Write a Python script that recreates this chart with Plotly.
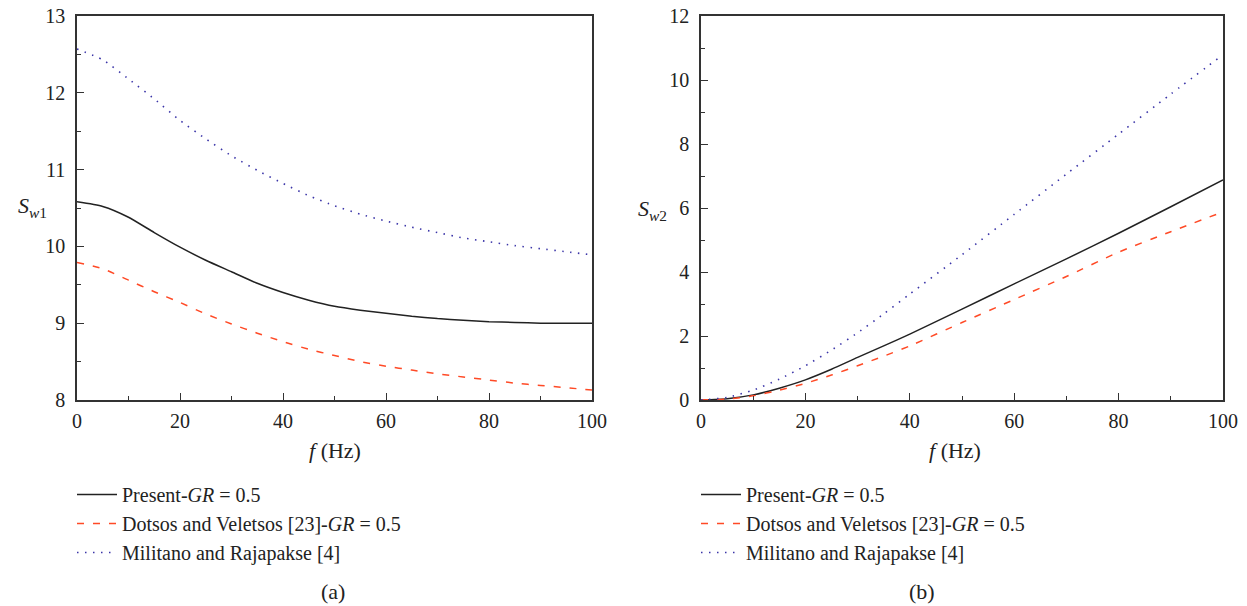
import plotly.graph_objects as go

# Frequency grids (Hz)
f_a = [0, 5, 10, 15, 20, 25, 30, 35, 40, 45, 50, 55, 60, 65, 70, 75, 80, 85, 90, 95, 100]
f_b = [0, 5, 10, 15, 20, 25, 30, 35, 40, 50, 60, 70, 80, 90, 100]

# (a) S_w1 versus frequency
sw1_present = [10.58, 10.52, 10.38, 10.18, 9.99, 9.82, 9.67, 9.52, 9.40, 9.30, 9.22,
               9.17, 9.13, 9.09, 9.06, 9.04, 9.02, 9.01, 9.00, 9.00, 9.00]
sw1_dotsos = [9.79, 9.71, 9.56, 9.41, 9.27, 9.12, 8.99, 8.87, 8.76, 8.66, 8.58,
              8.50, 8.44, 8.39, 8.34, 8.30, 8.26, 8.22, 8.19, 8.16, 8.13]
sw1_militano = [12.57, 12.43, 12.18, 11.92, 11.64, 11.40, 11.18, 10.99, 10.82, 10.66, 10.53,
                10.42, 10.33, 10.25, 10.18, 10.11, 10.06, 10.01, 9.97, 9.93, 9.89]

# (b) S_w2 versus frequency
sw2_present = [0, 0.04, 0.16, 0.37, 0.63, 0.96, 1.33, 1.69, 2.06, 2.84, 3.63, 4.41, 5.21, 6.04, 6.88]
sw2_dotsos = [0, 0.03, 0.13, 0.31, 0.52, 0.78, 1.07, 1.37, 1.69, 2.42, 3.14, 3.86, 4.62, 5.26, 5.88]
sw2_militano = [0, 0.08, 0.31, 0.65, 1.07, 1.56, 2.10, 2.69, 3.31, 4.54, 5.80, 7.06, 8.31, 9.56, 10.79]

names = ["Present-<i>GR</i> = 0.5",
         "Dotsos and Veletsos [23]-<i>GR</i> = 0.5",
         "Militano and Rajapakse [4]"]
colors = ["#222222", "#ff4a26", "#3b35a8"]
dashes = ["solid", "7px,9px", "1.5px,6.5px"]
widths = [1.5, 1.5, 1.6]

FONT = "Liberation Serif"
W, H = 1247, 606

fig = go.Figure()

series_a = [sw1_present, sw1_dotsos, sw1_militano]
series_b = [sw2_present, sw2_dotsos, sw2_militano]
for i in range(3):
    fig.add_trace(go.Scatter(
        x=f_a, y=series_a[i], mode="lines", name=names[i],
        line=dict(color=colors[i], dash=dashes[i], width=widths[i], shape="spline", smoothing=0.6),
        xaxis="x", yaxis="y", legend="legend"))
for i in range(3):
    fig.add_trace(go.Scatter(
        x=f_b, y=series_b[i], mode="lines", name=names[i],
        line=dict(color=colors[i], dash=dashes[i], width=widths[i], shape="spline", smoothing=0.6),
        xaxis="x2", yaxis="y2", legend="legend2"))

ydom = [1 - 400 / H, 1 - 16 / H]
axis_common = dict(
    showline=True, linecolor="#333333", linewidth=1.5, mirror=True,
    ticks="inside", ticklen=7, tickwidth=1.2, tickcolor="#333333",
    showgrid=False, zeroline=False,
    tickfont=dict(family=FONT, size=20, color="#222222"),
)
minor_common = dict(ticks="inside", ticklen=4, tickwidth=1.2, tickcolor="#333333")

legend_common = dict(xanchor="left", yanchor="top", bgcolor="rgba(0,0,0,0)",
                     font=dict(family=FONT, size=20, color="#222222"),
                     itemwidth=40, tracegroupgap=0)

fig.update_layout(
    width=W, height=H,
    margin=dict(l=0, r=0, t=0, b=0, autoexpand=False),
    plot_bgcolor="white", paper_bgcolor="white",
    font=dict(family=FONT, size=20, color="#222222"),
    xaxis=dict(domain=[77 / W, 592 / W], range=[0, 100], dtick=20, tick0=0,
               minor=dict(dtick=10, **minor_common),
               ticklabelstandoff=2, anchor="y", **axis_common),
    yaxis=dict(domain=ydom, range=[8, 13], dtick=1, tick0=8,
               minor=dict(dtick=0.5, **minor_common),
               ticklabelstandoff=6, anchor="x", **axis_common),
    xaxis2=dict(domain=[701 / W, 1223 / W], range=[0, 100], dtick=20, tick0=0,
                minor=dict(dtick=10, **minor_common),
                ticklabelstandoff=2, anchor="y2", **axis_common),
    yaxis2=dict(domain=ydom, range=[0, 12], dtick=2, tick0=0,
                minor=dict(dtick=1, **minor_common),
                ticklabelstandoff=6, anchor="x2", **axis_common),
    legend=dict(x=72 / W, y=1 - 475 / H, **legend_common),
    legend2=dict(x=696 / W, y=1 - 475 / H, **legend_common),
)

ann_font = dict(family=FONT, size=22, color="#222222")
annotations = [
    dict(text="<i>S</i><sub><i>w</i>1</sub>", x=32 / W, y=1 - 207 / H),
    dict(text="<i>S</i><sub><i>w</i>2</sub>", x=652 / W, y=1 - 210 / H),
    dict(text="<i>f</i> (Hz)", x=335 / W, y=1 - 450 / H),
    dict(text="<i>f</i> (Hz)", x=955 / W, y=1 - 450 / H),
    dict(text="(a)", x=333 / W, y=1 - 591 / H),
    dict(text="(b)", x=922 / W, y=1 - 591 / H),
]
for a in annotations:
    fig.add_annotation(xref="paper", yref="paper", showarrow=False,
                       xanchor="center", yanchor="middle", font=ann_font, **a)

fig.write_html("out.html")
